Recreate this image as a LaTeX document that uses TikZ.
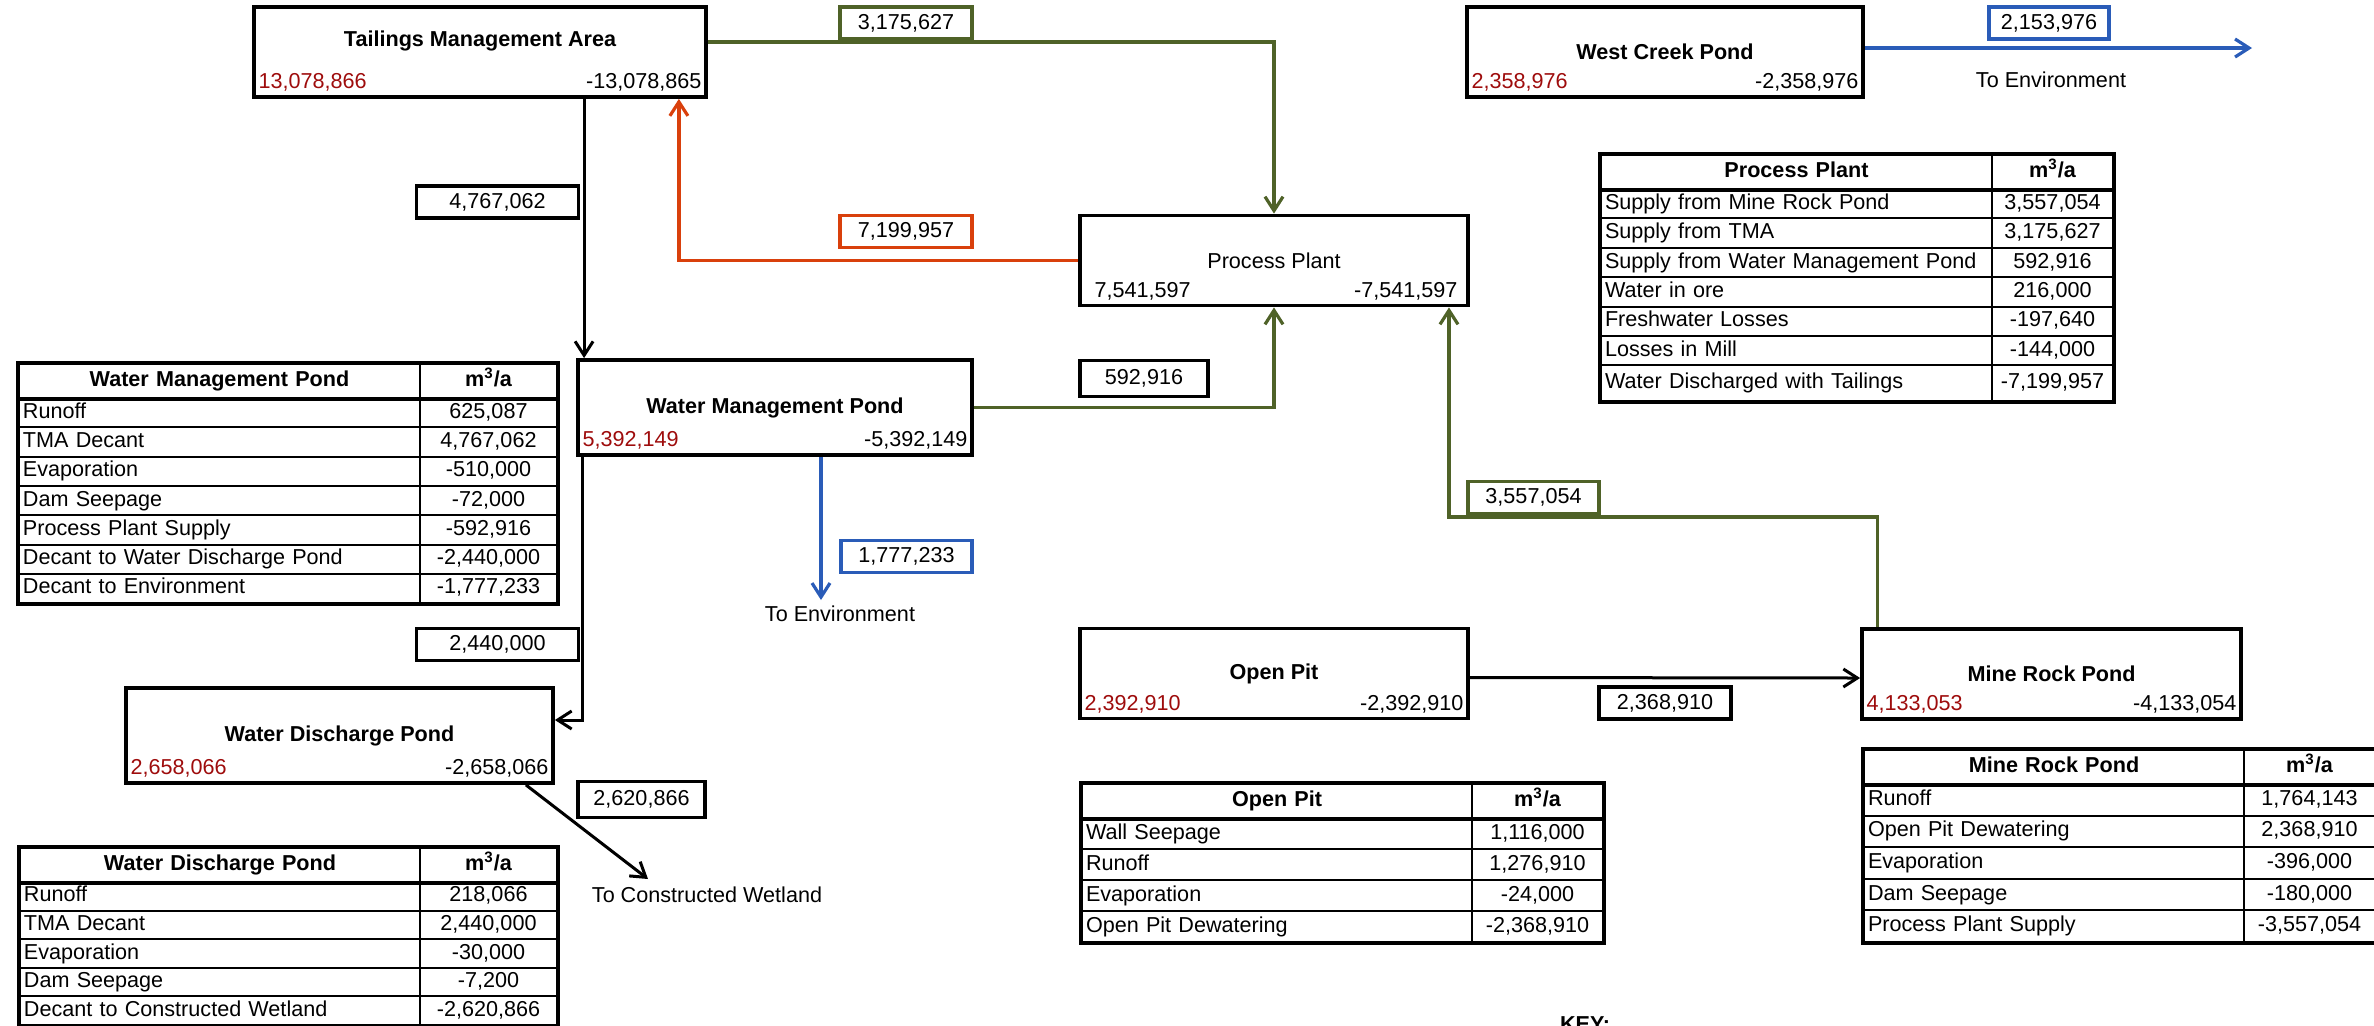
\documentclass[tikz,border=0pt]{standalone}
\usepackage{fontspec}
\setmainfont{Liberation Sans}
\usetikzlibrary{arrows.meta, positioning, calc, matrix}
\definecolor{flowGreen}{HTML}{4F6228}
\definecolor{flowOrange}{HTML}{D9400C}
\definecolor{flowBlue}{HTML}{2A5CB8}
\definecolor{balRed}{HTML}{9E0C0C}

\begin{document}
\fontsize{10.8}{13}\selectfont
\begin{tikzpicture}[
    x=0.5pt, y=-0.5pt,
    pond/.style={rectangle, draw, line width=1.9pt, minimum height=45pt, font=\bfseries},
    inval/.style={anchor=base west, inner sep=0pt, text=balRed},
    outval/.style={anchor=base east, inner sep=0pt},
    valbox/.style={rectangle, draw, line width=1.6pt, minimum height=16pt, inner sep=0pt, fill=white},
    note/.style={inner sep=0pt},
    flow/.style={line width=1.5pt, -{Straight Barb[length=7pt, width=9pt]}},
    tbl/.style={matrix of nodes, anchor=north west, draw, line width=2pt, inner sep=0pt,
        row sep=-1pt, column sep=-1pt,
        nodes={draw, line width=1pt, inner ysep=0pt, inner xsep=2pt, anchor=center,
               align=left, text height=8pt, text depth=2.5pt},
        row 1/.style={nodes={minimum height=17pt, font=\bfseries, align=center}}},
]
\useasboundingbox (0,0) rectangle (2374,1025);

% ponds and plant
\node[pond, minimum width=226pt, text height=8pt, text depth=14pt] (tma) at (480,52) {Tailings Management Area};
\node[pond, minimum width=198pt] (wcp) at (1665,52) {West Creek Pond};
\node[pond, minimum width=194pt, font=\mdseries] (pp) at (1274,260.5) {Process Plant};
\node[pond, minimum width=197pt, minimum height=47.5pt] (wmp) at (775,407.5) {Water Management Pond};
\node[pond, minimum width=213.5pt, minimum height=47.5pt] (wdp) at (339.5,735.5) {Water Discharge Pond};
\node[pond, minimum width=194pt] (op) at (1274,673.5) {Open Pit};
\node[pond, minimum width=189.5pt] (mrp) at (2051.5,674) {Mine Rock Pond};

% in / out totals
\node[inval] (tmain) at ([shift={(3pt,5pt)}]tma.south west) {13,078,866};
\node[outval] (tmaout) at ([shift={(-3pt,5pt)}]tma.south east) {-13,078,865};
\node[inval] (wcpin) at ([shift={(3pt,5pt)}]wcp.south west) {2,358,976};
\node[outval] (wcpout) at ([shift={(-3pt,5pt)}]wcp.south east) {-2,358,976};
\node[inval, text=black] (ppin) at ([shift={(8pt,5pt)}]pp.south west) {7,541,597};
\node[outval] (ppout) at ([shift={(-6pt,5pt)}]pp.south east) {-7,541,597};
\node[inval] (wmpin) at ([shift={(3pt,5pt)}]wmp.south west) {5,392,149};
\node[outval] (wmpout) at ([shift={(-3pt,5pt)}]wmp.south east) {-5,392,149};
\node[inval] (wdpin) at ([shift={(3pt,5pt)}]wdp.south west) {2,658,066};
\node[outval] (wdpout) at ([shift={(-3pt,5pt)}]wdp.south east) {-2,658,066};
\node[inval] (opin) at ([shift={(3pt,5pt)}]op.south west) {2,392,910};
\node[outval] (opout) at ([shift={(-3pt,5pt)}]op.south east) {-2,392,910};
\node[inval] (mrpin) at ([shift={(3pt,5pt)}]mrp.south west) {4,133,053};
\node[outval] (mrpout) at ([shift={(-3pt,5pt)}]mrp.south east) {-4,133,054};

% flow values
\node[valbox, minimum width=81pt] (v4767) at (497.5,202) {4,767,062};
\node[valbox, draw=flowGreen, minimum width=66pt] (v3175) at (906,23) {3,175,627};
\node[valbox, draw=flowOrange, minimum width=66pt] (v7199) at (906,231.5) {7,199,957};
\node[valbox, draw=flowBlue, minimum width=60pt] (v2153) at (2049,23) {2,153,976};
\node[valbox, minimum width=64pt, minimum height=18pt] (v592) at (1144,378.5) {592,916};
\node[valbox, draw=flowGreen, minimum width=65.5pt] (v3557) at (1533.5,497.5) {3,557,054};
\node[valbox, draw=flowBlue, minimum width=65.5pt] (v1777) at (906.5,556.5) {1,777,233};
\node[valbox, minimum width=81pt] (v2440) at (497.5,644.5) {2,440,000};
\node[valbox, minimum width=63.5pt, minimum height=18pt] (v2620) at (641.5,799.5) {2,620,866};
\node[valbox, minimum width=66pt] (v2368) at (1665,703) {2,368,910};

\node[note] (wcpenv) at (2051,80) {To Environment};
\node[note] (wmpenv) at (840,614) {To Environment};
\node[note] (wetland) at (707,895) {To Constructed Wetland};
\node[note, anchor=north, font=\bfseries] (key) at (1585,1016) {KEY:};

% flows
\coordinate (tmadrop) at ([xshift=4pt]wmp.north west);
\coordinate (tmaret) at ([xshift=-14.5pt]tma.south east);
\coordinate (wmpdrop) at ([xshift=3pt]wmp.south west);
\coordinate (wdpdrop) at ([xshift=-14.5pt]wdp.south east);
\coordinate (mrpup) at ([xshift=8.5pt]mrp.north west);
\coordinate (mrpbend) at (1449,517);
\coordinate (wcpend) at (2252,48);
\coordinate (wmpend) at (821,600);
\coordinate (wdpend) at (648,879);

\draw[flow] (tmadrop |- tma.south) -- (tmadrop);
\draw[flow, draw=flowGreen, line width=1.6pt] ([yshift=5pt]tma.east) -| (pp.north);
\draw[flow, draw=flowOrange, line width=1.6pt] (pp.west) -| (tmaret);
\draw[flow, draw=flowGreen, line width=1.6pt] (wmp.east) -| (pp.south);
\draw[flow, draw=flowGreen, line width=1.6pt] (mrpup) |- (mrpbend) -- (mrpbend |- pp.south);
\draw[flow, draw=flowBlue, line width=1.6pt] (wmpend |- wmp.south) -- (wmpend);
\draw[flow] (wmpdrop) |- ([yshift=7.75pt]wdp.east);
\draw[flow] (wdpdrop) -- (wdpend);
\draw[flow] ([yshift=-2pt]op.east) -- ([yshift=-2pt]mrp.west);
\draw[flow, draw=flowBlue, line width=1.6pt] (wcpend -| wcp.east) -- (wcpend);

% balance tables
\matrix[tbl, nodes={minimum height=14.65pt},
    column 1/.style={nodes={text width=196.5pt}},
    column 2/.style={nodes={text width=64.5pt, align=center}}] (wmptab) at (16,361) {
    Water Management Pond & m\textsuperscript{3}/a \\
    Runoff & 625,087 \\
    TMA Decant & 4,767,062 \\
    Evaporation & -510,000 \\
    Dam Seepage & -72,000 \\
    Process Plant Supply & -592,916 \\
    Decant to Water Discharge Pond & -2,440,000 \\
    Decant to Environment & -1,777,233 \\
};
\draw[line width=2pt] (wmptab-1-1.south west) -- (wmptab-1-2.south east);

\matrix[tbl, nodes={minimum height=14.3pt},
    column 1/.style={nodes={text width=196pt}},
    column 2/.style={nodes={text width=64.5pt, align=center}}] (wdptab) at (17,845) {
    Water Discharge Pond & m\textsuperscript{3}/a \\
    Runoff & 218,066 \\
    TMA Decant & 2,440,000 \\
    Evaporation & -30,000 \\
    Dam Seepage & -7,200 \\
    Decant to Constructed Wetland & -2,620,866 \\
};
\draw[line width=2pt] (wdptab-1-1.south west) -- (wdptab-1-2.south east);

\matrix[tbl, nodes={minimum height=14.7pt},
    row 8/.style={nodes={minimum height=18pt}},
    column 1/.style={nodes={text width=191.5pt}},
    column 2/.style={nodes={text width=56.5pt, align=center}}] (pptab) at (1598,152) {
    Process Plant & m\textsuperscript{3}/a \\
    Supply from Mine Rock Pond & 3,557,054 \\
    Supply from TMA & 3,175,627 \\
    Supply from Water Management Pond & 592,916 \\
    Water in ore & 216,000 \\
    Freshwater Losses & -197,640 \\
    Losses in Mill & -144,000 \\
    Water Discharged with Tailings & -7,199,957 \\
};
\draw[line width=2pt] (pptab-1-1.south west) -- (pptab-1-2.south east);

\matrix[tbl, nodes={minimum height=15.5pt},
    column 1/.style={nodes={text width=191pt}},
    column 2/.style={nodes={text width=61.5pt, align=center}}] (optab) at (1079,781) {
    Open Pit & m\textsuperscript{3}/a \\
    Wall Seepage & 1,116,000 \\
    Runoff & 1,276,910 \\
    Evaporation & -24,000 \\
    Open Pit Dewatering & -2,368,910 \\
};
\draw[line width=2pt] (optab-1-1.south west) -- (optab-1-2.south east);

\matrix[tbl, nodes={minimum height=15.8pt},
    column 1/.style={nodes={text width=186pt}},
    column 2/.style={nodes={text width=61.5pt, align=center}}] (mrptab) at (1861,747) {
    Mine Rock Pond & m\textsuperscript{3}/a \\
    Runoff & 1,764,143 \\
    Open Pit Dewatering & 2,368,910 \\
    Evaporation & -396,000 \\
    Dam Seepage & -180,000 \\
    Process Plant Supply & -3,557,054 \\
};
\draw[line width=2pt] (mrptab-1-1.south west) -- (mrptab-1-2.south east);
\end{tikzpicture}
\end{document}
